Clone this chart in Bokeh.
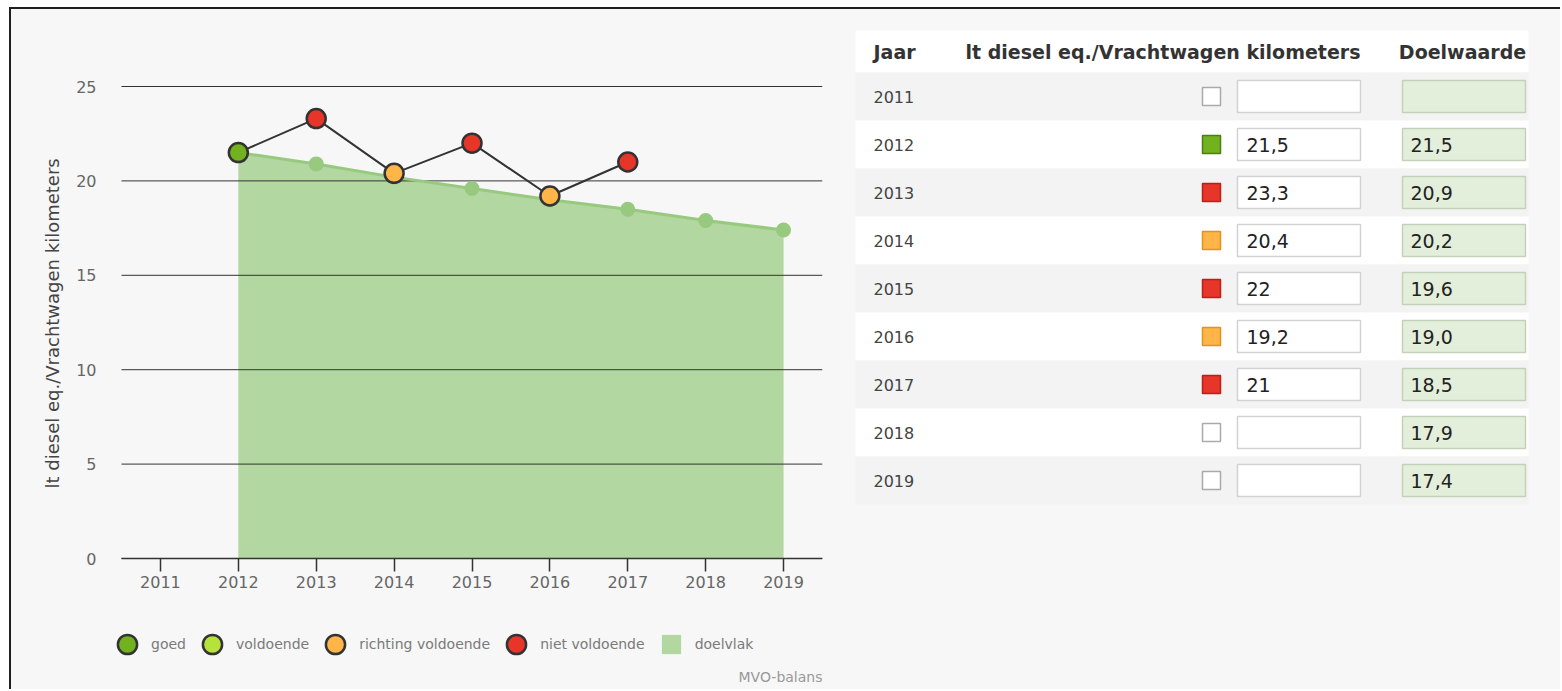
from bokeh.plotting import figure
from bokeh.models import Range1d, FixedTicker, Legend, LegendItem, Label, Title
from bokeh.layouts import row
from bokeh.embed import file_html
from bokeh.resources import INLINE
from bokeh.core.properties import value

NaN = float("nan")

# ---------------- data ----------------
years = [2011, 2012, 2013, 2014, 2015, 2016, 2017, 2018, 2019]
actual = [None, 21.5, 23.3, 20.4, 22, 19.2, 21, None, None]
status = [None, "goed", "niet voldoende", "richting voldoende", "niet voldoende",
          "richting voldoende", "niet voldoende", None, None]
target = [None, 21.5, 20.9, 20.2, 19.6, 19.0, 18.5, 17.9, 17.4]

status_names = ["goed", "voldoende", "richting voldoende", "niet voldoende"]
status_fill = ["#72b21f", "#b6e23c", "#ffb547", "#e8352a"]
status_edge = ["#4f7d15", "#85a82a", "#e0931e", "#b3231a"]
area_name = "doelvlak"

y_ticks = [0, 5, 10, 15, 20, 25]
y_title = "lt diesel eq./Vrachtwagen kilometers"
headers = ["Jaar", "lt diesel eq./Vrachtwagen kilometers", "Doelwaarde"]
credit = "MVO-balans"

# ---------------- layout constants (pixels) ----------------
BG = "#f7f7f7"
FONT = value("DejaVu Sans")
AREA = "#b3d7a0"
TLINE = "#97ca7e"
DARK = "#333333"

FIG_H = 680
P1_W = 834
P2_W = 715
TOP_PX, ZERO_PX = 77, 549          # px (from figure top) of y=25 line and of y=0 axis
YMAX = 25
ppu = (ZERO_PX - TOP_PX) / YMAX
y_hi = YMAX + TOP_PX / ppu
y_lo = -(FIG_H - ZERO_PX) / ppu

X0, X1 = 2010.5, 2019.5           # visible axis extent
AX_L, AX_R = 110, 811             # px (from figure left) of axis start / end
FR_L = 89                         # frame left px
ppx = (AX_R - AX_L) / (X1 - X0)
x_lo = X0 - (AX_L - FR_L) / ppx

# ---------------- chart ----------------
p1 = figure(width=P1_W, height=FIG_H, x_range=Range1d(x_lo, X1), y_range=Range1d(y_lo, y_hi),
            output_backend="svg", toolbar_location=None,
            min_border_left=FR_L, min_border_right=P1_W - AX_R, min_border_top=0, min_border_bottom=0,
            background_fill_color=BG, border_fill_color=BG, outline_line_color=None)

ty = [y for y, t in zip(years, target) if t is not None]
tv = [t for t in target if t is not None]
p1.varea(x=ty, y1=0, y2=tv, fill_color=AREA, fill_alpha=1.0, level="underlay")
# horizontal grid lines, limited to the axis extent
p1.segment(x0=X0, x1=X1, y0=y_ticks, y1=y_ticks, line_color=DARK, line_width=1, level="underlay")
p1.line(ty, tv, line_color=TLINE, line_width=3)
p1.scatter(ty, tv, size=15, fill_color=TLINE, line_color=None)

ay = [y for y, a in zip(years, actual) if a is not None]
av = [a for a in actual if a is not None]
p1.line(ay, av, line_color=DARK, line_width=2)

items = []
for name, fc in zip(status_names, status_fill):
    xs = [y for y, a, s in zip(years, actual, status) if s == name] or [NaN]
    vs = [a for y, a, s in zip(years, actual, status) if s == name] or [NaN]
    r = p1.scatter(xs, vs, size=19, fill_color=fc, line_color=DARK, line_width=2.5)
    items.append(LegendItem(label=name, renderers=[r]))
area_leg = p1.scatter([NaN], [NaN], marker="square", size=19, fill_color=AREA, line_color=None)
items.append(LegendItem(label=area_name, renderers=[area_leg]))

legend = Legend(items=items, orientation="horizontal", location=(AX_L - FR_L - 18, 21),
                glyph_width=48, glyph_height=48, label_standoff=0, spacing=2,
                padding=0, margin=0, background_fill_alpha=0, border_line_color=None,
                label_text_font="DejaVu Sans", label_text_font_size="14px",
                label_text_color="#7a7a7a")
p1.add_layout(legend)

p1.xaxis.fixed_location = 0
p1.xaxis.bounds = (X0, X1)
p1.xaxis.ticker = FixedTicker(ticks=years)
p1.xaxis.major_label_overrides = {y: str(y) for y in years}
p1.xaxis.minor_tick_line_color = None
p1.xaxis.major_tick_in = 0
p1.xaxis.major_tick_out = 13
p1.xaxis.major_tick_line_color = DARK
p1.xaxis.major_tick_line_width = 1.5
p1.xaxis.axis_line_color = DARK
p1.xaxis.axis_line_width = 1.5
p1.xaxis.major_label_standoff = 4
p1.xaxis.major_label_text_font = "DejaVu Sans"
p1.xaxis.major_label_text_font_size = "16px"
p1.xaxis.major_label_text_color = "#666666"
p1.xgrid.visible = False
p1.ygrid.visible = False

p1.yaxis.ticker = FixedTicker(ticks=y_ticks)
p1.yaxis.axis_line_color = None
p1.yaxis.major_tick_line_color = None
p1.yaxis.minor_tick_line_color = None
p1.yaxis.major_tick_out = 0
p1.yaxis.major_tick_in = 0
p1.yaxis.major_label_standoff = 4
p1.yaxis.major_label_text_font = "DejaVu Sans"
p1.yaxis.major_label_text_font_size = "16px"
p1.yaxis.major_label_text_color = "#666666"

p1.add_layout(Title(text=y_title, align="left", offset=201, standoff=21,
                    text_font="DejaVu Sans", text_font_size="18px", text_font_style="normal",
                    text_color="#444444"), "left")

p1.add_layout(Label(x=AX_R - FR_L, y=13, x_units="screen", y_units="screen", text=credit,
                    text_align="right", text_baseline="middle", text_font="DejaVu Sans",
                    text_font_size="14px", text_color="#999999"))

# ---------------- table ----------------
p2 = figure(width=P2_W, height=FIG_H, x_range=Range1d(0, P2_W), y_range=Range1d(FIG_H, 0),
            output_backend="svg", toolbar_location=None, min_border=0,
            background_fill_color=BG, border_fill_color=BG, outline_line_color=None)
p2.axis.visible = False
p2.grid.visible = False

HEAD_TOP, HEAD_BOT, ROW_H = 21, 63, 48
ROW_L, ROW_R = 10, 683
n = len(years)
tops = [HEAD_BOT + ROW_H * i for i in range(n)]
bots = [t + ROW_H for t in tops]
ctrs = [t + ROW_H / 2 for t in tops]

p2.quad(left=ROW_L, right=ROW_R, top=HEAD_TOP, bottom=HEAD_BOT, fill_color="#ffffff", line_color=None)
p2.quad(left=ROW_L, right=ROW_R, top=tops, bottom=bots,
        fill_color=["#f3f3f3" if i % 2 == 0 else "#ffffff" for i in range(n)], line_color=None)

hy = (HEAD_TOP + HEAD_BOT) / 2
p2.text(x=[28], y=[hy], text=[headers[0]], text_font=FONT, text_font_size="19px",
        text_font_style="bold", text_color="#333333", text_baseline="middle", text_align="left")
p2.text(x=[515], y=[hy], text=[headers[1]], text_font=FONT, text_font_size="19px",
        text_font_style="bold", text_color="#333333", text_baseline="middle", text_align="right")
p2.text(x=[617], y=[hy], text=[headers[2]], text_font=FONT, text_font_size="19px",
        text_font_style="bold", text_color="#333333", text_baseline="middle", text_align="center")

p2.text(x=[28] * n, y=ctrs, text=[str(y) for y in years], text_font=FONT, text_font_size="16px",
        text_color="#444444", text_baseline="middle", text_align="left")

cb_fill, cb_line = [], []
for s in status:
    if s is None:
        cb_fill.append("#ffffff"); cb_line.append("#aaaaaa")
    else:
        k = status_names.index(s)
        cb_fill.append(status_fill[k]); cb_line.append(status_edge[k])
p2.rect(x=[366] * n, y=ctrs, width=18, height=18, fill_color=cb_fill, line_color=cb_line, line_width=1.5)

p2.quad(left=392, right=515, top=[c - 16 for c in ctrs], bottom=[c + 16 for c in ctrs],
        fill_color="#ffffff", line_color="#d2d2d2", line_width=1.5)
p2.quad(left=557, right=680, top=[c - 16 for c in ctrs], bottom=[c + 16 for c in ctrs],
        fill_color="#e3efdb", line_color="#c2d1b8", line_width=1.5)

def fmt_a(v):
    return f"{v:g}".replace(".", ",")

def fmt_t(v):
    return f"{v:.1f}".replace(".", ",")

a_y = [c for c, a in zip(ctrs, actual) if a is not None]
a_t = [fmt_a(a) for a in actual if a is not None]
p2.text(x=[401] * len(a_y), y=a_y, text=a_t, text_font=FONT, text_font_size="19px",
        text_color="#222222", text_baseline="middle", text_align="left")
t_y = [c for c, t in zip(ctrs, target) if t is not None]
t_t = [fmt_t(t) for t in target if t is not None]
p2.text(x=[565] * len(t_y), y=t_y, text=t_t, text_font=FONT, text_font_size="19px",
        text_color="#222222", text_baseline="middle", text_align="left")

layout = row(p1, p2, styles={"border-left": "2px solid #1e1e1e", "border-top": "2px solid #1e1e1e",
                              "margin-left": "9px", "margin-top": "7px",
                              "background-color": BG})

open("out.html", "w").write(file_html(layout, INLINE))
